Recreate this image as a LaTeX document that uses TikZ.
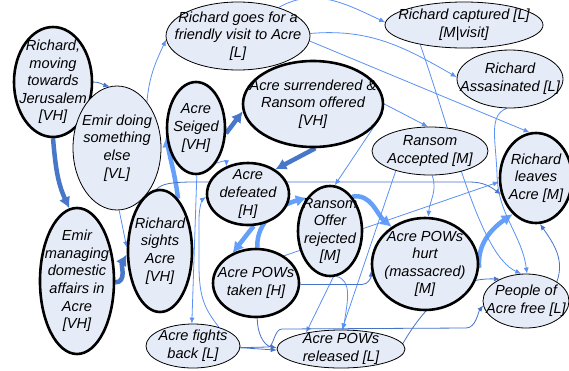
\documentclass[tikz,border=0pt]{standalone}
\usepackage{fontspec}
\setmainfont{Liberation Sans}
\usetikzlibrary{shapes.geometric,arrows.meta,backgrounds}
\definecolor{ellfill}{RGB}{229,235,247}
\definecolor{thinlight}{RGB}{90,145,245}
\definecolor{thindark}{RGB}{70,115,200}
\definecolor{thicklight}{RGB}{100,160,250}
\definecolor{thickdark}{RGB}{72,118,200}
\tikzset{
  ellbase/.style={ellipse,fill=ellfill,draw=black,inner sep=0pt},
  thickrim/.style={line width=2.6pt},
  thinrim/.style={line width=0.8pt},
  txt/.style={inner sep=0pt,align=center,font=\fontsize{14.6}{17.6}\selectfont\itshape},
  thinL/.style={draw=thinlight,line width=0.8pt,-{Latex[length=6pt,width=5pt]}},
  thinD/.style={draw=thindark,line width=0.8pt,-{Latex[length=6pt,width=5pt]}},
  thickL/.style={draw=thicklight,line width=4.5pt,-{Latex[length=11pt,width=12pt]}},
  thickD/.style={draw=thickdark,line width=4.5pt,-{Latex[length=11pt,width=12pt]}},
}
\newcommand{\mkell}[6]{%
  \node[ellbase,#5,minimum width=#3pt,minimum height=#4pt] (#1) at (#2) {};
  \node[txt] (#1-t) at (#1.center) {#6};}
\begin{document}
\begin{tikzpicture}[x=1pt,y=-1pt]
\useasboundingbox (0,0) rectangle (569,370);
\mkell{r1}{53,82}{78}{110}{thickrim}{Richard,\\moving\\towards\\Jerusalem\\{}[VH]}
\mkell{e1}{117,148}{88}{124}{thinrim}{Emir doing\\something\\else\\{}[VL]}
\mkell{e2}{77,281}{74}{146}{thickrim}{Emir\\managing\\domestic\\affairs in\\Acre\\{}[VH]}
\mkell{rs}{160,251}{64}{122}{thickrim}{Richard\\sights\\Acre\\{}[VH]}
\mkell{as}{196,128}{58}{92}{thickrim}{Acre\\Seiged\\{}[VH]}
\mkell{rv}{238,36}{144}{68}{thinrim}{Richard goes for a\\friendly visit to Acre\\{}[L]}
\mkell{asr}{313,104}{140}{86}{thickrim}{Acre surrendered \&\\Ransom offered\\{}[VH]}
\mkell{rc}{464,25}{158}{46}{thinrim}{Richard captured [L]\\{}[M|visit]}
\mkell{ra}{510,79}{106}{58}{thinrim}{Richard\\Assasinated [L]}
\mkell{rac}{430,151}{116}{48}{thinrim}{Ransom\\Accepted [M]}
\mkell{rl}{536,178}{72}{90}{thickrim}{Richard\\leaves\\Acre [M]}
\mkell{ad}{248,194}{82}{62}{thickrim}{Acre\\defeated\\{}[H]}
\mkell{ror}{330,231}{64}{90}{thickrim}{Ransom\\Offer\\rejected\\{}[M]}
\mkell{apt}{256,283}{86}{68}{thickrim}{Acre POWs\\taken [H]}
\mkell{aph}{425,264}{106}{92}{thickrim}{Acre POWs\\hurt\\(massacred)\\{}[M]}
\mkell{paf}{526,301}{86}{54}{thinrim}{People of\\Acre free [L]}
\mkell{afb}{193,346}{94}{44}{thinrim}{Acre fights\\back [L]}
\mkell{apr}{341,349}{128}{38}{thinrim}{Acre POWs\\released [L]}
\begin{scope}[on background layer]
\fill[white] (0,0) rectangle (569,370);
% thick connectors
\draw[thickD] (r1.-90) to[out=-85,in=115] (e2.96);
\draw[thickD] (e2.-2) to[out=0,in=240] (rs.186);
\draw[thickL] (rs.71) to[out=97,in=-80] (as.195);
\draw[thickD] (as.-10) -- (asr.186);
\draw[thickD] (asr.-87) -- (ad.42);
\draw[thickL] (ad.-80) -- (apt.128);
\draw[thickL] (apt.88) to[out=92,in=195] (ror.125);
\draw[thickL] (ror.57) to[out=10,in=140] (aph.132);
\draw[thickL] (aph.-4) to[out=95,in=215] (rl.237);
% thin connectors
\draw[thinD] (r1.0) to[out=0,in=165] (e1.97);
\draw[thinL] (e1.57) to[out=85,in=-115] (rv.183);
\draw[thinL] (e1.-88) -- (rs.174);
\draw[thinD] (rs.93) .. controls (162,184) and (170,182) .. (195,182) -- (470,182) .. controls (485,182) and (492,188) .. (rl.205);
\draw[thinL] (as.-89) -- (afb.93);
\draw[thinL] (as.-60) to[out=20,in=88,looseness=1.4] (ad.128);
\draw[thinL] (afb.36) .. controls (206,310) and (199,300) .. (199,265) -- (199,220) .. controls (199,205) and (203,199) .. (ad.184);
\draw[thinL] (rv.35) to[out=30,in=155] (rc.178);
\draw[thinL] (rv.2) to[out=5,in=150] (ra.178);
\draw[thinL] (rv.-4) -- (rl.98);
\draw[thinL] (rc.-156) .. controls (455,145) and (480,255) .. (paf.100);
\draw[thinL] (ra.-96) .. controls (488,115) and (496,140) .. (497,175) .. controls (498,215) and (522,235) .. (paf.88);
\draw[thinL] (asr.0) -- (rac.95);
\draw[thinL] (asr.-8) -- (ror.84);
\draw[thinL] (rac.-85) to[out=-70,in=85] (aph.86);
\draw[thinL] (rac.-150) -- (apr.87);
\draw[thinL] (ror.-86) -- (apr.155);
\draw[thinL] (ror.-82) .. controls (352,280) and (348,300) .. (apr.84);
\draw[thinL] (apt.44) -- (rl.186);
\draw[thinD] (apt.-2) -- (362,284.5) to[out=0,in=-90] (aph.187);
\draw[thinD] (apt.-88) to[out=-90,in=170] (apr.179);
\draw[thinD] (afb.-2) -- (apr.181);
\draw[thinD] (afb.-2) -- (268,347) .. controls (274,347) and (274,329) .. (282,329) -- (466,328) .. controls (476,328) and (478,312) .. (paf.186);
\draw[thinD] (apr.5) to[out=60,in=178] (paf.140);
\draw[thinD] (paf.32) to[out=70,in=-55] (rl.-85);
\end{scope}
\end{tikzpicture}
\end{document}
